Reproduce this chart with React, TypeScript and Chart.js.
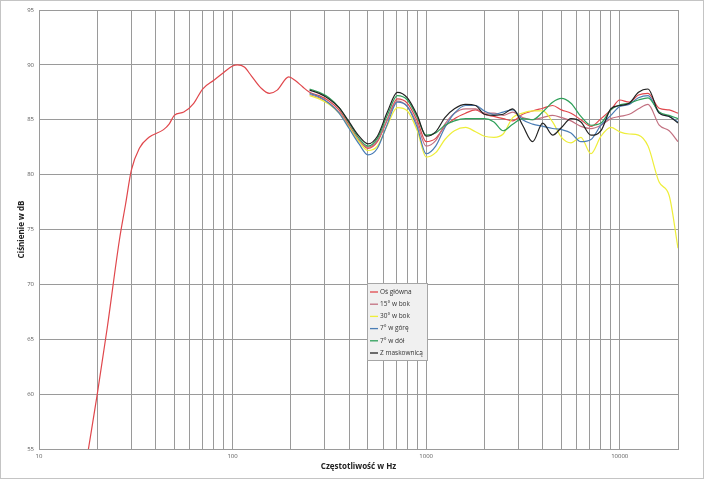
import React, { useEffect, useRef } from 'react';
import { Chart, registerables } from 'chart.js';

Chart.register(...registerables);

// ---------- data ----------
const seriesNames = ['Oś główna', '15° w bok', '30° w bok', '7° w górę', '7° w dół', 'Z maskownicą'];
const seriesColors = ['#E0474C', '#C27080', '#EEEE3A', '#4A7DB5', '#2FA05A', '#222222'];

// main axis, low-frequency part (Hz / dB)
const freqLow = [18, 20, 22.5, 26, 28, 30, 33, 37, 44, 47, 50, 56, 63, 70, 80, 90, 100, 106, 115, 125, 140, 155, 170, 195, 210, 230];
const mainLow = [55, 60, 66, 74, 77.3, 80.4, 82.4, 83.4, 84.1, 84.6, 85.4, 85.7, 86.5, 87.8, 88.6, 89.3, 89.9, 90.0, 89.8, 89.0, 87.9, 87.4, 87.7, 88.9, 88.6, 88.0];

// shared frequency grid for all curves from 250 Hz up
const freqHigh = [250, 280, 315, 355, 400, 450, 500, 560, 630, 710, 800, 900, 1000, 1120, 1250, 1400, 1600, 1800, 2000, 2240, 2500, 2800, 3150, 3550, 4000, 4500, 5000, 5600, 6300, 7100, 8000, 9000, 10000, 11200, 12500, 14000, 16000, 18000, 20000];
const mainHigh = [87.5, 87.2, 86.7, 85.9, 84.5, 83.1, 82.4, 83.0, 85.0, 86.9, 86.5, 84.9, 83.0, 83.3, 84.4, 85.1, 85.6, 85.9, 85.5, 85.3, 85.1, 84.9, 85.5, 85.8, 86.05, 86.3, 85.9, 85.6, 85.0, 84.4, 85.1, 85.9, 86.8, 86.6, 87.25, 87.4, 86.05, 85.9, 85.6];
const deg15 = [87.3, 87.0, 86.5, 85.7, 84.4, 83.1, 82.5, 83.1, 85.0, 86.7, 86.2, 84.6, 82.6, 83.1, 84.6, 85.6, 86.0, 86.0, 85.6, 85.6, 85.4, 85.7, 85.2, 85.0, 85.2, 85.4, 85.2, 84.9, 84.4, 84.2, 84.5, 85.1, 85.3, 85.5, 86.0, 86.4, 84.5, 84.0, 83.0];
const deg30 = [87.2, 86.9, 86.4, 85.6, 84.3, 83.0, 82.2, 82.6, 84.5, 86.1, 85.8, 84.0, 81.6, 82.0, 83.2, 84.0, 84.3, 83.9, 83.5, 83.4, 83.7, 85.2, 85.6, 85.8, 85.8, 84.8, 83.4, 82.9, 83.4, 81.9, 83.5, 84.3, 83.9, 83.7, 83.6, 82.6, 79.3, 78.1, 73.3];
const deg7up = [87.4, 87.1, 86.5, 85.6, 84.2, 82.8, 81.8, 82.4, 84.6, 86.6, 86.2, 84.3, 81.9, 82.6, 84.3, 85.6, 86.3, 86.3, 85.8, 85.5, 85.7, 85.9, 85.0, 84.6, 84.4, 84.2, 84.1, 83.8, 83.0, 83.2, 84.5, 85.4, 86.2, 86.4, 87.0, 87.2, 85.6, 85.3, 84.8];
const deg7down = [87.8, 87.5, 87.0, 86.1, 84.7, 83.3, 82.6, 83.3, 85.4, 87.2, 86.8, 85.2, 83.6, 83.8, 84.5, 84.9, 85.1, 85.1, 85.1, 84.8, 84.0, 84.6, 85.1, 85.0, 85.7, 86.6, 86.95, 86.5, 85.3, 84.5, 84.7, 85.9, 86.35, 86.5, 86.8, 87.0, 85.7, 85.4, 85.1];
const grille = [87.7, 87.4, 86.9, 86.1, 84.8, 83.5, 82.8, 83.5, 85.7, 87.5, 87.0, 85.4, 83.5, 83.9, 85.2, 86.0, 86.4, 86.3, 85.5, 85.4, 85.5, 86.0, 84.5, 83.0, 84.7, 83.6, 84.3, 85.1, 84.8, 83.6, 84.0, 86.0, 86.3, 86.5, 87.5, 87.8, 85.6, 85.3, 84.7];

const xTickLabels = ['10', '100', '1000', '10000'];
const yMin = 55;
const yMax = 95;
const yStep = 5;
const xMin = 10;
const xMax = 20000;

const xTitle = 'Częstotliwość w Hz';
const yTitle = 'Ciśnienie w dB';

const FONT = '"Open Sans", "Liberation Sans", sans-serif';

function toPoints(freqs: number[], vals: number[]) {
  return freqs.map((f, i) => ({ x: f, y: vals[i] }));
}

// gridline values: 1..9 x 10^n inside range
function logGridValues(): number[] {
  const out: number[] = [];
  for (let d = xMin; d <= xMax; d *= 10) {
    for (let m = 1; m <= 9; m++) {
      const v = d * m;
      if (v <= xMax) out.push(v);
    }
  }
  return out;
}

const framePlugin = {
  id: 'frame',
  beforeDraw(chart: any) {
    const { ctx, width, height } = chart;
    ctx.save();
    ctx.fillStyle = '#ffffff';
    ctx.fillRect(0, 0, width, height);
    ctx.restore();
  },
  afterDraw(chart: any) {
    const { ctx, width, height } = chart;
    ctx.save();
    ctx.strokeStyle = '#c4c4c4';
    ctx.lineWidth = 1;
    ctx.strokeRect(0.5, 0.5, width - 2, height - 2);
    ctx.restore();
  },
};

const boxLegendPlugin = {
  id: 'boxLegend',
  afterDatasetsDraw(chart: any) {
    const { ctx, chartArea } = chart;
    const bx = chartArea.left + 328;
    const by = chartArea.top + 273;
    const bw = 60;
    const bh = 77;
    ctx.save();
    ctx.fillStyle = '#f0f0f0';
    ctx.fillRect(bx, by, bw, bh);
    ctx.strokeStyle = '#a6a6a6';
    ctx.lineWidth = 1;
    ctx.strokeRect(bx + 0.5, by + 0.5, bw, bh);
    ctx.font = `6.5px ${FONT}`;
    ctx.textBaseline = 'middle';
    ctx.textAlign = 'left';
    seriesNames.forEach((name, i) => {
      const y = by + 9 + i * 12.2;
      ctx.strokeStyle = seriesColors[i];
      ctx.lineWidth = 1.3;
      ctx.beginPath();
      ctx.moveTo(bx + 3, y);
      ctx.lineTo(bx + 11, y);
      ctx.stroke();
      ctx.fillStyle = '#333333';
      ctx.fillText(name, bx + 13, y);
    });
    ctx.restore();
  },
};

export default function App() {
  const ref = useRef<HTMLCanvasElement>(null);

  useEffect(() => {
    if (!ref.current) return;
    const seriesData = [
      [...toPoints(freqLow, mainLow), ...toPoints(freqHigh, mainHigh)],
      toPoints(freqHigh, deg15),
      toPoints(freqHigh, deg30),
      toPoints(freqHigh, deg7up),
      toPoints(freqHigh, deg7down),
      toPoints(freqHigh, grille),
    ];
    const gridVals = logGridValues();
    const chart = new Chart(ref.current, {
      type: 'line',
      data: {
        datasets: seriesNames.map((name, i) => ({
          label: name,
          data: seriesData[i],
          borderColor: seriesColors[i],
          backgroundColor: seriesColors[i],
          borderWidth: 1.2,
          pointRadius: 0,
          fill: false,
          cubicInterpolationMode: 'monotone' as const,
          order: seriesNames.length - i,
        })),
      },
      options: {
        responsive: false,
        animation: false,
        events: [],
        layout: { padding: { top: 10, right: 27, left: 0, bottom: 0 } },
        plugins: {
          legend: { display: false },
          tooltip: { enabled: false },
        },
        scales: {
          x: {
            type: 'logarithmic',
            min: xMin,
            max: xMax,
            afterBuildTicks: (scale: any) => {
              scale.ticks = gridVals.map((v) => ({ value: v }));
            },
            afterFit: (scale: any) => {
              scale.height = 31;
            },
            ticks: {
              autoSkip: false,
              maxRotation: 0,
              padding: 4,
              color: '#595959',
              font: { family: FONT, size: 6 },
              callback: (value: any) => {
                const s = String(value);
                return xTickLabels.includes(s) ? s : '';
              },
            },
            grid: { color: '#9a9a9a', lineWidth: 1, drawTicks: false },
            border: { display: true, color: '#9a9a9a' },
            title: {
              display: true,
              text: xTitle,
              color: '#222',
              font: { family: FONT, size: 8, weight: 'bold' },
              padding: { top: 0, bottom: 8 },
            },
          },
          y: {
            type: 'linear',
            min: yMin,
            max: yMax,
            afterFit: (scale: any) => {
              scale.width = 39;
            },
            ticks: {
              stepSize: yStep,
              padding: 5,
              color: '#595959',
              font: { family: FONT, size: 6 },
            },
            grid: { color: '#9a9a9a', lineWidth: 1, drawTicks: false },
            border: { display: true, color: '#9a9a9a' },
            title: {
              display: true,
              text: yTitle,
              color: '#222',
              font: { family: FONT, size: 8, weight: 'bold' },
              padding: { top: 17, bottom: 0 },
            },
          },
        },
      },
      plugins: [framePlugin, boxLegendPlugin],
    } as any);
    return () => chart.destroy();
  }, []);

  return (
    <div style={{ position: 'absolute', left: 0, top: 0, width: 705, height: 480, background: '#fff' }}>
      <canvas ref={ref} width={705} height={480} style={{ display: 'block', width: 705, height: 480 }} />
    </div>
  );
}
